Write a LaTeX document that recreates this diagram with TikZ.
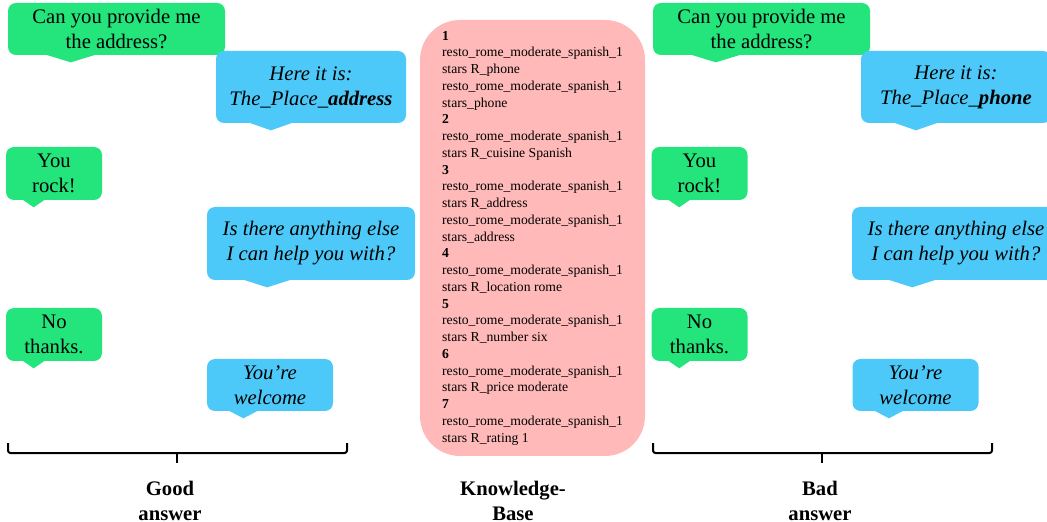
\documentclass[tikz,border=0pt]{standalone}
\usepackage{fontspec}
\setmainfont{Liberation Serif}
\usetikzlibrary{calc}
\definecolor{usergreen}{HTML}{23E57C}
\definecolor{botblue}{HTML}{4CC9F8}
\definecolor{kbpink}{HTML}{FFB9B9}
% small pointer under a speech bubble
\newcommand{\tail}[2]{\fill[#2] ($(#1.south west)!0.17!(#1.south east)+(0,-1)$) -- ($(#1.south west)!0.29!(#1.south east)+(0,7)$) -- ($(#1.south west)!0.41!(#1.south east)+(0,-1)$) -- cycle;}
\begin{document}
\begin{tikzpicture}[x=0.6pt,y=-0.6pt,
  bubble/.style={rounded corners=4.8pt,inner sep=0pt,align=center,font=\fontsize{12.4}{15}\selectfont},
  user/.style={bubble,fill=usergreen},
  bot/.style={bubble,fill=botblue,font=\fontsize{12.4}{15}\selectfont\itshape},
  caption/.style={align=center,font=\fontsize{12.4}{15}\selectfont\bfseries}]
\useasboundingbox (0,0) rectangle (1047,522);
% good answer
\node[user,minimum width=130.2pt,minimum height=31.2pt] (gq1) at (116.5,29) {Can you provide me\\the address?};
\node[bot,minimum width=114pt,minimum height=43.2pt] (ga1) at (311,87) {Here it is:\\The\_Place\_\textbf{address}};
\node[user,minimum width=57.6pt,minimum height=31.8pt] (gq2) at (54,173.5) {You\\rock!};
\node[bot,minimum width=124.8pt,minimum height=43.8pt] (ga2) at (311,243.5) {Is there anything else\\I can help you with?};
\node[user,minimum width=57.6pt,minimum height=31.8pt] (gq3) at (54,334.5) {No\\thanks.};
\node[bot,minimum width=75.6pt,minimum height=31.2pt] (ga3) at (270,385) {You’re\\welcome};
\tail{gq1}{usergreen} \tail{gq2}{usergreen} \tail{gq3}{usergreen}
\tail{ga1}{botblue} \tail{ga2}{botblue} \tail{ga3}{botblue}
% bad answer
\node[user,minimum width=130.2pt,minimum height=31.2pt] (bq1) at (761.5,29) {Can you provide me\\the address?};
\node[bot,minimum width=114pt,minimum height=43.2pt] (ba1) at (956,87) {Here it is:\\The\_Place\_\textbf{phone}};
\node[user,minimum width=57.6pt,minimum height=31.8pt] (bq2) at (699.5,173.5) {You\\rock!};
\node[bot,minimum width=124.8pt,minimum height=43.8pt] (ba2) at (956,243.5) {Is there anything else\\I can help you with?};
\node[user,minimum width=57.6pt,minimum height=31.8pt] (bq3) at (699.5,334.5) {No\\thanks.};
\node[bot,minimum width=75.6pt,minimum height=31.2pt] (ba3) at (915.5,385) {You’re\\welcome};
\tail{bq1}{usergreen} \tail{bq2}{usergreen} \tail{bq3}{usergreen}
\tail{ba1}{botblue} \tail{ba2}{botblue} \tail{ba3}{botblue}
% knowledge base
\node[fill=kbpink,rounded corners=24pt,minimum width=135pt,minimum height=261.6pt,inner sep=0pt,
  align=left,font=\fontsize{8.2}{10.05}\selectfont] (kb) at (532.5,238) {\textbf{1}\\
resto\_rome\_moderate\_spanish\_1\\stars R\_phone\\
resto\_rome\_moderate\_spanish\_1\\stars\_phone\\
\textbf{2}\\
resto\_rome\_moderate\_spanish\_1\\stars R\_cuisine Spanish\\
\textbf{3}\\
resto\_rome\_moderate\_spanish\_1\\stars R\_address\\
resto\_rome\_moderate\_spanish\_1\\stars\_address\\
\textbf{4}\\
resto\_rome\_moderate\_spanish\_1\\stars R\_location rome\\
\textbf{5}\\
resto\_rome\_moderate\_spanish\_1\\stars R\_number six\\
\textbf{6}\\
resto\_rome\_moderate\_spanish\_1\\stars R\_price moderate\\
\textbf{7}\\
resto\_rome\_moderate\_spanish\_1\\stars R\_rating 1};
% braces and captions
\foreach \dx in {0,645} {
\draw[line width=1.2pt,rounded corners=1.5pt] (8+\dx,443) |- (347+\dx,453) -- (347+\dx,443);
\draw[line width=1.2pt] (177+\dx,453) -- (177+\dx,463);
}
\node[caption] (good) at (170,500.5) {Good\\answer};
\node[caption] (kbl) at (513,500.5) {Knowledge-\\Base};
\node[caption] (bad) at (820,500.5) {Bad\\answer};
\end{tikzpicture}
\end{document}
